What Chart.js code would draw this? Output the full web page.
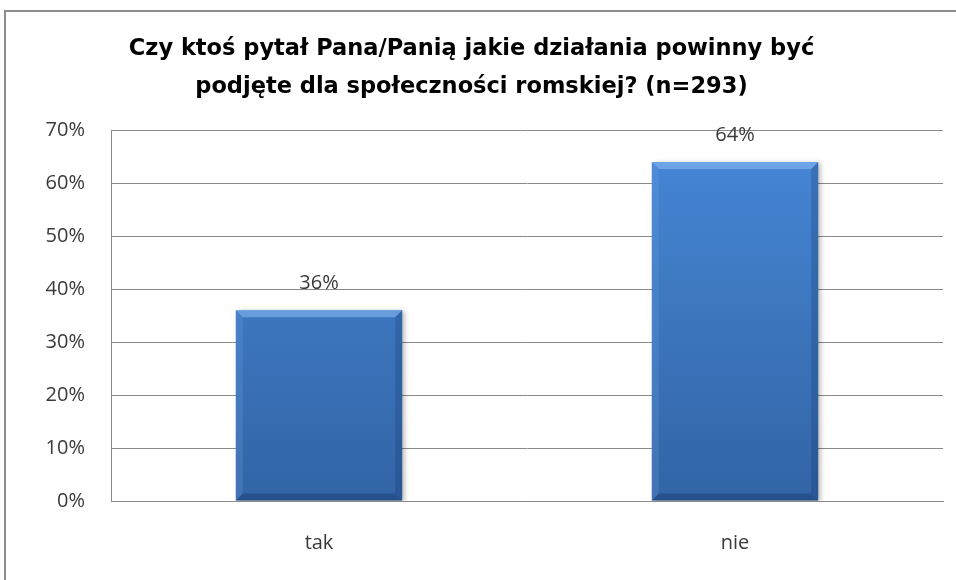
<!DOCTYPE html>
<html>
<head>
<meta charset="utf-8">
<script src="https://cdn.jsdelivr.net/npm/chart.js@4.4.1/dist/chart.umd.min.js"></script>
<style>
  html, body { margin: 0; padding: 0; background: #fff; overflow: hidden; }
  #wrap { position: relative; width: 956px; height: 580px; }
  #frame { position: absolute; left: 4px; top: 10px; width: 1000px; height: 700px; border: 2px solid #8c8c8c; box-sizing: border-box; }
  canvas { position: absolute; left: 0; top: 0; }
</style>
</head>
<body>
<div id="wrap">
  <div id="frame"></div>
  <canvas id="chart" width="956" height="580"></canvas>
</div>
<script>
// Chart data
const categories = ["tak", "nie"];
const shares = [36, 64];
const titleLines = ["Czy ktoś pytał Pana/Panią jakie działania powinny być", "podjęte dla społeczności romskiej? (n=293)"];
const yMax = 70;
const yStep = 10;

const textColor = "#3a3a3a";
const gridColor = "#8a8a8a";

// bar gradient, built from the chart area
function barFill(context) {
    const area = context.chart.chartArea;
    if (!area) return "#3f78c0";
    const g = context.chart.ctx.createLinearGradient(0, area.top, 0, area.bottom);
    g.addColorStop(0, "#4788d8");
    g.addColorStop(1, "#3264a5");
    return g;
}

// bevel + shadow look for the bars
const bevelPlugin = {
    id: "bevel",
    beforeDatasetDraw(chart) {
        const ctx = chart.ctx;
        ctx.save();
        ctx.shadowColor = "rgba(0,0,0,0.28)";
        ctx.shadowBlur = 5;
        ctx.shadowOffsetX = 3;
        ctx.shadowOffsetY = 1;
    },
    afterDatasetDraw(chart) {
        const ctx = chart.ctx;
        ctx.restore();
        const meta = chart.getDatasetMeta(0);
        meta.data.forEach(bar => {
            const l = bar.x - bar.width / 2, r = bar.x + bar.width / 2;
            const t = bar.y, b = bar.base;
            const d = 7;
            ctx.save();
            // top bevel
            ctx.beginPath();
            ctx.moveTo(l, t); ctx.lineTo(r, t); ctx.lineTo(r - d, t + d); ctx.lineTo(l + d, t + d); ctx.closePath();
            ctx.fillStyle = "rgba(140,190,245,0.55)";
            ctx.fill();
            // left bevel
            ctx.beginPath();
            ctx.moveTo(l, t); ctx.lineTo(l + d, t + d); ctx.lineTo(l + d, b - d); ctx.lineTo(l, b); ctx.closePath();
            ctx.fillStyle = "rgba(110,160,225,0.25)";
            ctx.fill();
            // right bevel
            ctx.beginPath();
            ctx.moveTo(r, t); ctx.lineTo(r, b); ctx.lineTo(r - d, b - d); ctx.lineTo(r - d, t + d); ctx.closePath();
            ctx.fillStyle = "rgba(20,50,100,0.25)";
            ctx.fill();
            // bottom bevel
            ctx.beginPath();
            ctx.moveTo(l, b); ctx.lineTo(r, b); ctx.lineTo(r - d, b - d); ctx.lineTo(l + d, b - d); ctx.closePath();
            ctx.fillStyle = "rgba(20,45,90,0.35)";
            ctx.fill();
            ctx.restore();
        });
    }
};

// value labels above bars
const valueLabels = {
    id: "valueLabels",
    afterDatasetsDraw(chart) {
        const ctx = chart.ctx;
        const meta = chart.getDatasetMeta(0);
        ctx.save();
        ctx.font = "20px 'Open Sans'";
        ctx.fillStyle = textColor;
        ctx.textAlign = "center";
        ctx.textBaseline = "middle";
        meta.data.forEach((bar, i) => {
            ctx.fillText(shares[i] + "%", bar.x, bar.y - 27);
        });
        ctx.restore();
    }
};

const ctx = document.getElementById("chart").getContext("2d");
new Chart(ctx, {
    type: "bar",
    data: {
        labels: categories,
        datasets: [{
            data: shares,
            backgroundColor: barFill,
            borderWidth: 0,
            barPercentage: 0.4,
            categoryPercentage: 1.0
        }]
    },
    options: {
        responsive: false,
        animation: false,
        layout: { padding: { left: 0, right: 13, top: 0, bottom: 0 } },
        plugins: {
            legend: { display: false },
            tooltip: { enabled: false },
            title: {
                display: true,
                text: titleLines,
                color: "#000",
                font: { family: "'DejaVu Sans'", size: 22.5, weight: "bold", lineHeight: 1.65 },
                padding: { top: 31, bottom: 25 }
            }
        },
        scales: {
            x: {
                grid: { display: false, drawTicks: false },
                border: { display: true, color: gridColor, width: 1 },
                ticks: { color: textColor, font: { family: "'Open Sans'", size: 20 }, padding: 30 },
                afterFit(scale) { scale.height = 79; }
            },
            y: {
                min: 0,
                max: yMax,
                grid: { color: gridColor, drawTicks: false },
                border: { display: true, color: gridColor, width: 1 },
                ticks: {
                    stepSize: yStep,
                    color: textColor,
                    font: { family: "'Open Sans'", size: 20 },
                    padding: 26,
                    callback: v => v + "%"
                },
                afterFit(scale) { scale.width = 111; }
            }
        }
    },
    plugins: [bevelPlugin, valueLabels]
});
</script>
</body>
</html>
